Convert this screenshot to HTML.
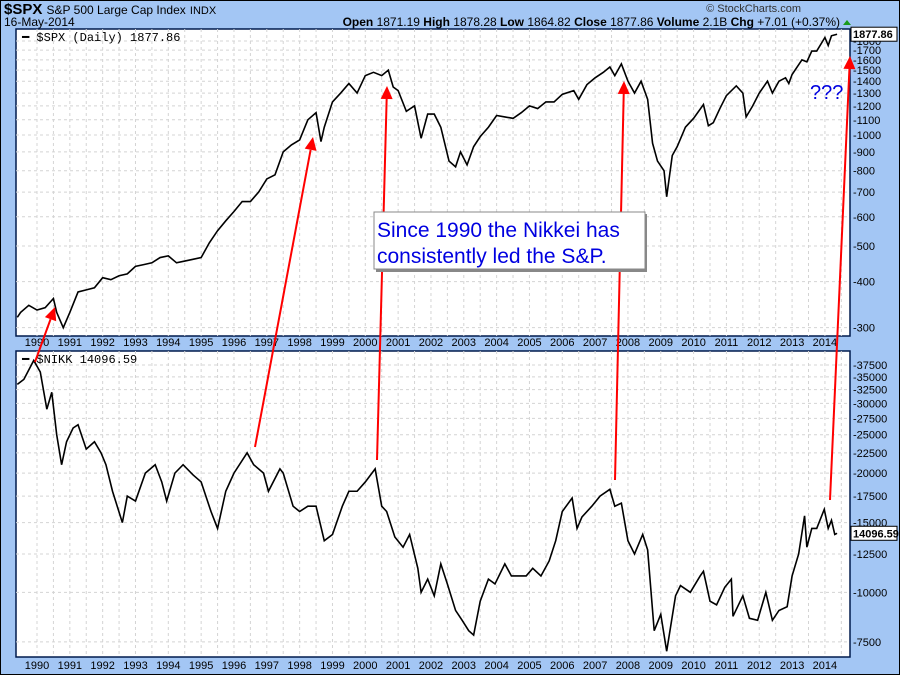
<!DOCTYPE html>
<html><head><meta charset="utf-8"><style>
body{margin:0;background:#fff}
svg{display:block;font-family:"Liberation Sans",sans-serif}
</style></head><body>
<svg id="c" width="900" height="675" viewBox="0 0 900 675">
<rect x="0.5" y="0.5" width="899" height="674" fill="#a3c6f4" stroke="#000"/>
<text x="4" y="14" font-size="15" font-weight="bold">$SPX <tspan font-size="12" font-weight="normal">S&amp;P 500 Large Cap Index</tspan> <tspan font-size="11" font-weight="normal">INDX</tspan></text>
<text x="4" y="26" font-size="12">16-May-2014</text>
<text x="801" y="12" font-size="11" text-anchor="end" fill="#333">© StockCharts.com</text>
<text x="840" y="26" font-size="12" text-anchor="end"><tspan font-weight="bold">Open</tspan> 1871.19 <tspan font-weight="bold">High</tspan> 1878.28 <tspan font-weight="bold">Low</tspan> 1864.82 <tspan font-weight="bold">Close</tspan> 1877.86 <tspan font-weight="bold">Volume</tspan> 2.1B <tspan font-weight="bold">Chg</tspan> +7.01 (+0.37%)</text>
<polygon points="843,25 851,25 847,20" fill="#1a9a1a"/>
<rect x="16" y="29" width="834" height="307" fill="#fff" stroke="#001a4d" stroke-width="1.5"/>
<rect x="16" y="351" width="834" height="306" fill="#fff" stroke="#001a4d" stroke-width="1.5"/>
<g id="grid"></g>
<g id="series"></g>
<g id="labels"></g>
<text x="22" y="41" font-family="Liberation Mono,monospace" font-size="12">━ $SPX (Daily) 1877.86</text>
<text x="22" y="363" font-family="Liberation Mono,monospace" font-size="12">━ $NIKK 14096.59</text>
<g id="arrows"></g>
<rect x="376" y="214" width="271" height="58" fill="#888"/>
<rect x="374" y="212" width="271" height="57" fill="#fff" stroke="#888"/>
<text x="377" y="237" font-size="21" fill="#0000e0">Since 1990 the Nikkei has</text>
<text x="377" y="263" font-size="21" fill="#0000e0">consistently led the S&amp;P.</text>
<text x="810" y="99" font-size="20" fill="#0000e0">???</text>
</svg>
<script>
const years=[1990,1991,1992,1993,1994,1995,1996,1997,1998,1999,2000,2001,2002,2003,2004,2005,2006,2007,2008,2009,2010,2011,2012,2013,2014];
const spxTicks=[300,400,500,600,700,800,900,1000,1100,1200,1300,1400,1500,1600,1700,1800];
const nikTicks=[7500,10000,12500,15000,17500,20000,22500,25000,27500,30000,32500,35000,37500];
const spxT=[1989.4,1989.5,1989.75,1990.0,1990.25,1990.5,1990.6,1990.8,1991.0,1991.25,1991.5,1991.75,1992.0,1992.25,1992.5,1992.75,1993.0,1993.25,1993.5,1993.75,1994.0,1994.25,1994.5,1994.75,1995.0,1995.25,1995.5,1995.75,1996.0,1996.25,1996.5,1996.75,1997.0,1997.25,1997.5,1997.75,1998.0,1998.25,1998.5,1998.65,1998.75,1999.0,1999.25,1999.5,1999.75,2000.0,2000.25,2000.5,2000.7,2000.85,2001.0,2001.25,2001.5,2001.7,2001.9,2002.1,2002.3,2002.55,2002.75,2002.9,2003.1,2003.3,2003.5,2003.75,2004.0,2004.25,2004.5,2004.75,2005.0,2005.25,2005.5,2005.75,2006.0,2006.35,2006.5,2006.75,2007.0,2007.25,2007.45,2007.6,2007.8,2008.0,2008.2,2008.4,2008.6,2008.75,2008.9,2009.1,2009.18,2009.35,2009.5,2009.75,2010.0,2010.3,2010.45,2010.6,2010.8,2011.0,2011.3,2011.5,2011.6,2011.8,2012.0,2012.25,2012.4,2012.6,2012.8,2012.9,2013.0,2013.3,2013.45,2013.6,2013.75,2014.0,2014.1,2014.2,2014.37];
const spxV=[320,330,345,335,340,360,330,300,330,375,380,385,410,405,415,420,440,445,450,465,470,450,455,460,465,510,550,585,620,660,660,700,760,780,900,940,970,1100,1150,960,1050,1230,1300,1380,1300,1450,1480,1450,1500,1350,1320,1160,1200,980,1140,1140,1050,850,820,900,830,930,990,1050,1130,1120,1110,1150,1200,1180,1230,1230,1290,1320,1250,1370,1430,1480,1530,1450,1560,1400,1300,1400,1250,950,850,800,680,880,930,1050,1110,1210,1060,1080,1180,1280,1360,1300,1120,1200,1300,1400,1300,1400,1430,1380,1460,1600,1580,1690,1690,1840,1750,1860,1878];
const nikT=[1989.4,1989.6,1989.9,1990.1,1990.3,1990.45,1990.6,1990.75,1990.9,1991.1,1991.25,1991.5,1991.75,1991.95,1992.1,1992.3,1992.6,1992.75,1993.0,1993.3,1993.6,1993.8,1993.95,1994.2,1994.45,1994.75,1995.0,1995.3,1995.5,1995.75,1996.0,1996.4,1996.6,1996.9,1997.05,1997.4,1997.5,1997.8,1998.0,1998.25,1998.5,1998.75,1999.0,1999.3,1999.5,1999.75,2000.0,2000.3,2000.5,2000.65,2000.9,2001.15,2001.35,2001.6,2001.7,2001.9,2002.1,2002.3,2002.5,2002.75,2002.95,2003.15,2003.3,2003.5,2003.75,2003.95,2004.25,2004.45,2004.7,2004.9,2005.1,2005.35,2005.6,2005.8,2006.0,2006.3,2006.45,2006.6,2006.9,2007.15,2007.45,2007.6,2007.8,2008.0,2008.2,2008.45,2008.6,2008.8,2009.0,2009.18,2009.45,2009.6,2009.9,2010.2,2010.3,2010.5,2010.7,2010.95,2011.15,2011.2,2011.5,2011.7,2011.95,2012.2,2012.4,2012.6,2012.85,2013.0,2013.2,2013.38,2013.45,2013.6,2013.75,2013.98,2014.1,2014.2,2014.3,2014.37];
const nikV=[33500,34500,38500,36000,29000,32000,25000,21000,24000,26000,26500,23000,24000,22500,21000,18000,15000,17500,17000,20000,21000,19000,17000,20000,21000,19800,19000,16000,14500,18000,20000,22500,21000,20000,18000,20500,20000,16500,16000,16500,16500,13500,14000,16500,18000,18000,19000,20500,16500,16000,13800,13000,14000,11500,10000,10800,9800,11800,10500,9000,8500,8000,7800,9500,10800,10500,11800,11000,11000,11000,11500,11000,12000,13500,16000,17300,14500,15500,16500,17500,18200,16500,16800,13500,12500,14000,12800,8000,8800,7100,9800,10400,10000,11000,11300,9500,9300,10300,10800,8700,9800,8600,8500,10000,8500,9000,9200,11000,12500,15600,13000,14500,14500,16200,14500,15200,14000,14097];
const arrowFrom=[[35,362],[255,447],[377,460],[615,480],[830,500]];
const arrowTo=[[55,307],[313,137],[387,86],[624,81],[850,56]];

const NS='http://www.w3.org/2000/svg';
const X=t=>37+(t-1990)*32.83;
const Ys=v=>41+160*Math.log(1800/v);
const Yn=v=>365+172*Math.log(37500/v);
function mk(tag,at,parent){const e=document.createElementNS(NS,tag);for(const k in at)e.setAttribute(k,at[k]);document.getElementById(parent).appendChild(e);return e;}
for(const y of years){for(const h of [0,0.5]){const x=X(y+h);if(x>849)continue;
 for(const [a,b] of [[29,336],[351,657]]){const l=mk('line',{x1:x,x2:x,y1:a,y2:b,stroke:'#d4d4d4','stroke-dasharray':'3,3'},'grid');
 
 }}
 for(const ly of [346,669]){const t=mk('text',{x:X(y),y:ly,'font-size':11,'text-anchor':'middle'},'labels');t.textContent=y;
 
 }}
for(const v of spxTicks){const y=Ys(v);
 const l=mk('line',{x1:16,x2:850,y1:y,y2:y,stroke:'#d4d4d4','stroke-dasharray':'3,3'},'grid');
 
 
 const t=mk('text',{x:853,y:y+4,'font-size':11},'labels');t.textContent='-'+v;
 
 }
for(const v of nikTicks){const y=Yn(v);
 const l=mk('line',{x1:16,x2:850,y1:y,y2:y,stroke:'#d4d4d4','stroke-dasharray':'3,3'},'grid');
 
 
 const t=mk('text',{x:853,y:y+4,'font-size':11},'labels');t.textContent='-'+v;
 
 }
const p1=mk('polyline',{points:spxT.map((t,i)=>X(t)+','+Ys(spxV[i])).join(' '),fill:'none',stroke:'#000','stroke-width':1.6},'series');


const p2=mk('polyline',{points:nikT.map((t,i)=>X(t)+','+Yn(nikV[i])).join(' '),fill:'none',stroke:'#000','stroke-width':1.6},'series');


const lb=[[Ys(spxV[spxV.length-1]),'1877.86'],[Yn(nikV[nikV.length-1]),'14096.59']];
for(const [y,s] of lb){const r=mk('rect',{x:851,y:y-7,width:46,height:14,fill:'#fff',stroke:'#000'},'labels');
 
 
 const t=mk('text',{x:853,y:y+4,'font-size':11,'font-weight':'bold'},'labels');t.textContent=s;
 
 }
arrowFrom.forEach((f,i)=>{const to=arrowTo[i];const dx=to[0]-f[0],dy=to[1]-f[1],L=Math.hypot(dx,dy),ux=dx/L,uy=dy/L;
 const bx=to[0]-ux*13,by=to[1]-uy*13;
 const l=mk('line',{x1:f[0],y1:f[1],x2:bx,y2:by,stroke:'#f00','stroke-width':2},'arrows');
 
 
 const h=mk('polygon',{points:`${to[0]},${to[1]} ${bx-uy*6},${by+ux*6} ${bx+uy*6},${by-ux*6}`,fill:'#f00'},'arrows');
 
 });
</script>
</body></html>
